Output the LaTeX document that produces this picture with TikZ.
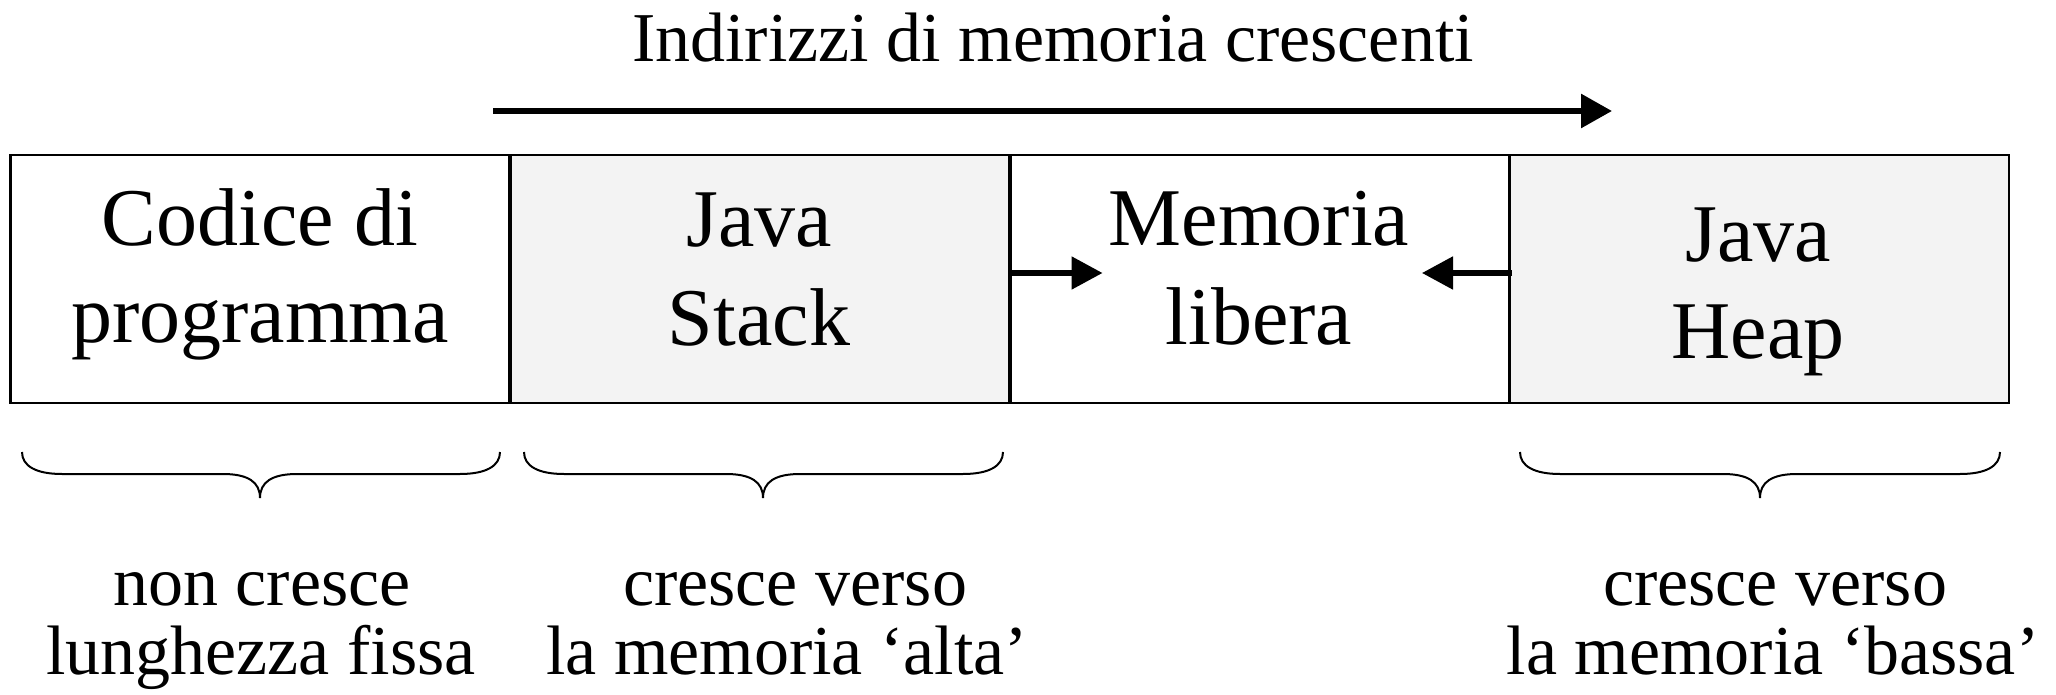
\documentclass[tikz,border=0pt]{standalone}
\usepackage{fontspec}
\setmainfont{Liberation Serif}
\usetikzlibrary{arrows.meta,calc}
\definecolor{boxgray}{HTML}{F3F3F3}
\begin{document}
\begin{tikzpicture}[x=0.5pt,y=-0.5pt,
  box/.style={draw=black,line width=1.1pt,minimum width=249.5pt,minimum height=124pt,inner sep=0pt,outer sep=0pt},
  graybox/.style={box,fill=boxgray},
  boxtxt/.style={anchor=base,inner sep=0pt,font=\fontsize{41}{48}\selectfont},
  lbltxt/.style={anchor=base,inner sep=0pt,font=\fontsize{35}{40}\selectfont},
  arr/.style={line width=2.6pt,-{Triangle[length=15.5pt,width=16pt]}},
  bigarr/.style={line width=3pt,-{Triangle[length=15.5pt,width=16.5pt]}},
  brace/.style={line width=1pt}]
\useasboundingbox (0,0) rectangle (2056,695);
% boxes
\node[box] (code) at (260,279) {};
\node[graybox] (stack) at (760,279) {};
\node[box] (free) at (1260,279) {};
\node[graybox] (heap) at (1759.5,279) {};
% box texts
\node[boxtxt] (t1a) at (260,246) {Codice di};
\node[boxtxt] (t1b) at (260,343) {programma};
\node[boxtxt] (t2a) at (759,247) {Java};
\node[boxtxt] (t2b) at (759,345) {Stack};
\node[boxtxt] (t3a) at (1259,246) {Memoria};
\node[boxtxt] (t3b) at (1259,344) {libera};
\node[boxtxt] (t4a) at (1758,262) {Java};
\node[boxtxt] (t4b) at (1758,358) {Heap};
% title and top arrow
\node[lbltxt] (title) at (1053,62) {Indirizzi di memoria crescenti};
\coordinate (ta) at (493,111);
\coordinate (tb) at (1612,111);
\draw[bigarr] (ta) -- (tb);
% small arrows
\draw[arr] ($(stack.east)+(2,-6)$) -- ($(stack.east)+(93,-6)$);
\draw[arr] ($(heap.west)+(2,-6)$) -- ($(heap.west)+(-88,-6)$);
% braces
\foreach \xa/\xm/\xb/\nm in {22/260/500/b1, 524/763/1003/b2, 1520/1760/2000/b3}{
  \draw[brace] (\xa,452) .. controls (\xa,466) and (\xa+14,474) .. (\xa+40,474)
    -- (\xm-37,474) .. controls (\xm-12,474) and (\xm,482) .. (\xm,498)
    .. controls (\xm,482) and (\xm+12,474) .. (\xm+37,474)
    -- (\xb-40,474) .. controls (\xb-14,474) and (\xb,466) .. (\xb,452);
}
% bottom labels
\node[lbltxt] (l1a) at (262,605) {non cresce};
\node[lbltxt] (l1b) at (261,674) {lunghezza fissa};
\node[lbltxt] (l2a) at (795,605) {cresce verso};
\node[lbltxt] (l2b) at (787,674) {la memoria ‘alta’};
\node[lbltxt] (l3a) at (1775,605) {cresce verso};
\node[lbltxt] (l3b) at (1773,674) {la memoria ‘bassa’};
\end{tikzpicture}
\end{document}
